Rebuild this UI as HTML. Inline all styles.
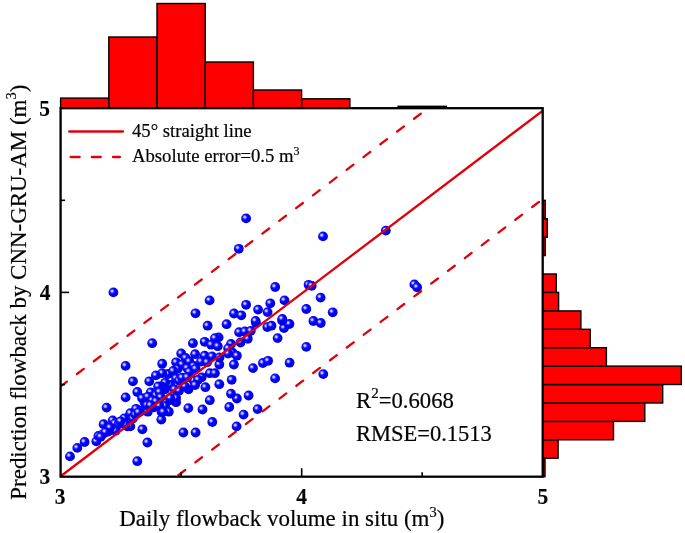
<!DOCTYPE html>
<html><head><meta charset="utf-8"><title>chart</title>
<style>
html,body{margin:0;padding:0;background:#fff;}
svg{display:block;}
text{font-family:"Liberation Serif",serif;fill:#000;}
.r{stroke:#000;stroke-width:0.2px;}
.b{font-weight:bold;font-size:23.8px;stroke:#000;stroke-width:0.15px;}
</style></head><body>
<svg width="685" height="533" viewBox="0 0 685 533">
<defs>
<radialGradient id="g" cx="0.365" cy="0.37" r="0.70" fx="0.365" fy="0.37">
<stop offset="0" stop-color="#e2e2ff"/>
<stop offset="0.11" stop-color="#c4c4ff"/>
<stop offset="0.24" stop-color="#5858ff"/>
<stop offset="0.34" stop-color="#1414fa"/>
<stop offset="0.5" stop-color="#0202f4"/>
<stop offset="0.85" stop-color="#0000ec"/>
<stop offset="1" stop-color="#0000cc"/>
</radialGradient>
<clipPath id="cp"><rect x="60.6" y="108.2" width="482.1" height="368.5"/></clipPath>
</defs>
<rect width="685" height="533" fill="#fff"/>

<rect x="60.6" y="98.1" width="48.2" height="10.1" fill="#ff0000" stroke="#000" stroke-width="1.4"/>
<rect x="108.8" y="37.0" width="48.2" height="71.2" fill="#ff0000" stroke="#000" stroke-width="1.4"/>
<rect x="157.0" y="3.5" width="48.2" height="104.7" fill="#ff0000" stroke="#000" stroke-width="1.4"/>
<rect x="205.2" y="62.0" width="48.2" height="46.2" fill="#ff0000" stroke="#000" stroke-width="1.4"/>
<rect x="253.4" y="90.0" width="48.2" height="18.2" fill="#ff0000" stroke="#000" stroke-width="1.4"/>
<rect x="301.7" y="98.8" width="48.2" height="9.4" fill="#ff0000" stroke="#000" stroke-width="1.4"/>
<rect x="398.1" y="106.3" width="48.2" height="1.9" fill="#ff0000" stroke="#000" stroke-width="1.4"/>
<rect x="542.7" y="458.3" width="2.3" height="18.4" fill="#ff0000" stroke="#000" stroke-width="1.4"/>
<rect x="542.7" y="439.8" width="15.4" height="18.4" fill="#ff0000" stroke="#000" stroke-width="1.4"/>
<rect x="542.7" y="421.4" width="70.8" height="18.4" fill="#ff0000" stroke="#000" stroke-width="1.4"/>
<rect x="542.7" y="403.0" width="102.1" height="18.4" fill="#ff0000" stroke="#000" stroke-width="1.4"/>
<rect x="542.7" y="384.6" width="120.0" height="18.4" fill="#ff0000" stroke="#000" stroke-width="1.4"/>
<rect x="542.7" y="366.1" width="138.6" height="18.4" fill="#ff0000" stroke="#000" stroke-width="1.4"/>
<rect x="542.7" y="347.7" width="63.7" height="18.4" fill="#ff0000" stroke="#000" stroke-width="1.4"/>
<rect x="542.7" y="329.3" width="47.5" height="18.4" fill="#ff0000" stroke="#000" stroke-width="1.4"/>
<rect x="542.7" y="310.9" width="38.2" height="18.4" fill="#ff0000" stroke="#000" stroke-width="1.4"/>
<rect x="542.7" y="292.4" width="15.9" height="18.4" fill="#ff0000" stroke="#000" stroke-width="1.4"/>
<rect x="542.7" y="274.0" width="13.6" height="18.4" fill="#ff0000" stroke="#000" stroke-width="1.4"/>
<rect x="542.7" y="237.2" width="2.5" height="18.4" fill="#ff0000" stroke="#000" stroke-width="1.4"/>
<rect x="542.7" y="218.8" width="4.6" height="18.4" fill="#ff0000" stroke="#000" stroke-width="1.4"/>
<rect x="542.7" y="200.3" width="2.5" height="18.4" fill="#ff0000" stroke="#000" stroke-width="1.4"/>
<g fill="url(#g)">
<circle cx="70.0" cy="456.4" r="4.9"/>
<circle cx="77.3" cy="447.9" r="4.9"/>
<circle cx="84.6" cy="442.0" r="4.9"/>
<circle cx="96.3" cy="441.4" r="4.9"/>
<circle cx="98.4" cy="435.9" r="4.9"/>
<circle cx="102.5" cy="434.4" r="4.9"/>
<circle cx="106.6" cy="407.6" r="4.9"/>
<circle cx="103.6" cy="424.2" r="4.9"/>
<circle cx="112.7" cy="420.5" r="4.9"/>
<circle cx="114.9" cy="423.4" r="4.9"/>
<circle cx="118.6" cy="424.2" r="4.9"/>
<circle cx="108.3" cy="431.5" r="4.9"/>
<circle cx="115.6" cy="430.7" r="4.9"/>
<circle cx="124.4" cy="418.3" r="4.9"/>
<circle cx="130.3" cy="413.2" r="4.9"/>
<circle cx="127.3" cy="426.4" r="4.9"/>
<circle cx="130.3" cy="426.4" r="4.9"/>
<circle cx="136.1" cy="408.8" r="4.9"/>
<circle cx="141.3" cy="411.0" r="4.9"/>
<circle cx="144.4" cy="402.1" r="4.9"/>
<circle cx="147.8" cy="411.7" r="4.9"/>
<circle cx="153.7" cy="407.3" r="4.9"/>
<circle cx="142.4" cy="429.3" r="4.9"/>
<circle cx="147.4" cy="442.5" r="4.9"/>
<circle cx="137.3" cy="461.2" r="4.9"/>
<circle cx="161.3" cy="419.6" r="4.9"/>
<circle cx="165.1" cy="405.9" r="4.9"/>
<circle cx="161.5" cy="411.7" r="4.9"/>
<circle cx="168.8" cy="411.7" r="4.9"/>
<circle cx="176.1" cy="402.2" r="4.9"/>
<circle cx="170.2" cy="400.0" r="4.9"/>
<circle cx="188.3" cy="408.1" r="4.9"/>
<circle cx="202.5" cy="409.5" r="4.9"/>
<circle cx="209.8" cy="400.2" r="4.9"/>
<circle cx="212.3" cy="422.0" r="4.9"/>
<circle cx="183.4" cy="432.5" r="4.9"/>
<circle cx="195.6" cy="432.5" r="4.9"/>
<circle cx="229.3" cy="407.0" r="4.9"/>
<circle cx="236.9" cy="398.5" r="4.9"/>
<circle cx="243.6" cy="414.6" r="4.9"/>
<circle cx="236.6" cy="426.4" r="4.9"/>
<circle cx="257.6" cy="409.1" r="4.9"/>
<circle cx="248.6" cy="395.5" r="4.9"/>
<circle cx="267.3" cy="327.1" r="4.9"/>
<circle cx="271.5" cy="325.7" r="4.9"/>
<circle cx="284.0" cy="328.0" r="4.9"/>
<circle cx="289.4" cy="324.0" r="4.9"/>
<circle cx="282.1" cy="320.5" r="4.9"/>
<circle cx="277.6" cy="338.1" r="4.9"/>
<circle cx="313.4" cy="321.0" r="4.9"/>
<circle cx="320.8" cy="323.0" r="4.9"/>
<circle cx="306.3" cy="346.9" r="4.9"/>
<circle cx="262.9" cy="363.0" r="4.9"/>
<circle cx="268.1" cy="360.8" r="4.9"/>
<circle cx="289.6" cy="362.7" r="4.9"/>
<circle cx="275.1" cy="378.4" r="4.9"/>
<circle cx="323.3" cy="374.1" r="4.9"/>
<circle cx="207.6" cy="325.7" r="4.9"/>
<circle cx="226.6" cy="324.2" r="4.9"/>
<circle cx="255.9" cy="322.7" r="4.9"/>
<circle cx="239.1" cy="332.2" r="4.9"/>
<circle cx="244.9" cy="331.5" r="4.9"/>
<circle cx="250.8" cy="330.8" r="4.9"/>
<circle cx="247.8" cy="338.8" r="4.9"/>
<circle cx="240.5" cy="342.5" r="4.9"/>
<circle cx="218.6" cy="337.4" r="4.9"/>
<circle cx="214.9" cy="338.1" r="4.9"/>
<circle cx="204.7" cy="341.8" r="4.9"/>
<circle cx="211.2" cy="344.7" r="4.9"/>
<circle cx="217.8" cy="346.2" r="4.9"/>
<circle cx="192.9" cy="343.2" r="4.9"/>
<circle cx="231.0" cy="344.0" r="4.9"/>
<circle cx="228.1" cy="348.4" r="4.9"/>
<circle cx="232.5" cy="352.7" r="4.9"/>
<circle cx="236.9" cy="355.7" r="4.9"/>
<circle cx="228.1" cy="353.5" r="4.9"/>
<circle cx="181.2" cy="353.5" r="4.9"/>
<circle cx="185.6" cy="357.9" r="4.9"/>
<circle cx="195.1" cy="354.2" r="4.9"/>
<circle cx="204.7" cy="355.7" r="4.9"/>
<circle cx="212.0" cy="356.4" r="4.9"/>
<circle cx="201.0" cy="361.5" r="4.9"/>
<circle cx="189.3" cy="361.5" r="4.9"/>
<circle cx="176.1" cy="362.3" r="4.9"/>
<circle cx="162.2" cy="363.7" r="4.9"/>
<circle cx="182.0" cy="364.5" r="4.9"/>
<circle cx="177.6" cy="368.9" r="4.9"/>
<circle cx="187.1" cy="368.1" r="4.9"/>
<circle cx="193.7" cy="365.9" r="4.9"/>
<circle cx="189.3" cy="371.8" r="4.9"/>
<circle cx="219.3" cy="364.5" r="4.9"/>
<circle cx="233.9" cy="364.5" r="4.9"/>
<circle cx="209.8" cy="373.2" r="4.9"/>
<circle cx="214.9" cy="373.2" r="4.9"/>
<circle cx="201.7" cy="377.3" r="4.9"/>
<circle cx="253.0" cy="368.1" r="4.9"/>
<circle cx="231.7" cy="379.8" r="4.9"/>
<circle cx="219.3" cy="384.2" r="4.9"/>
<circle cx="205.4" cy="387.2" r="4.9"/>
<circle cx="231.0" cy="393.7" r="4.9"/>
<circle cx="168.1" cy="374.0" r="4.9"/>
<circle cx="162.2" cy="373.2" r="4.9"/>
<circle cx="173.2" cy="371.0" r="4.9"/>
<circle cx="176.1" cy="378.4" r="4.9"/>
<circle cx="179.0" cy="380.6" r="4.9"/>
<circle cx="170.2" cy="385.0" r="4.9"/>
<circle cx="165.1" cy="382.8" r="4.9"/>
<circle cx="165.1" cy="389.3" r="4.9"/>
<circle cx="182.0" cy="377.6" r="4.9"/>
<circle cx="193.7" cy="380.6" r="4.9"/>
<circle cx="198.1" cy="379.8" r="4.9"/>
<circle cx="188.5" cy="389.3" r="4.9"/>
<circle cx="195.1" cy="385.0" r="4.9"/>
<circle cx="184.9" cy="386.4" r="4.9"/>
<circle cx="176.1" cy="398.1" r="4.9"/>
<circle cx="170.2" cy="398.1" r="4.9"/>
<circle cx="161.5" cy="386.4" r="4.9"/>
<circle cx="174.6" cy="389.3" r="4.9"/>
<circle cx="179.0" cy="390.8" r="4.9"/>
<circle cx="152.2" cy="343.2" r="4.9"/>
<circle cx="125.6" cy="365.9" r="4.9"/>
<circle cx="155.9" cy="375.4" r="4.9"/>
<circle cx="132.9" cy="381.3" r="4.9"/>
<circle cx="149.3" cy="381.3" r="4.9"/>
<circle cx="158.1" cy="386.4" r="4.9"/>
<circle cx="137.3" cy="392.0" r="4.9"/>
<circle cx="150.8" cy="392.3" r="4.9"/>
<circle cx="125.6" cy="397.4" r="4.9"/>
<circle cx="155.9" cy="395.2" r="4.9"/>
<circle cx="142.0" cy="398.1" r="4.9"/>
<circle cx="147.8" cy="396.7" r="4.9"/>
<circle cx="113.4" cy="292.4" r="4.9"/>
<circle cx="195.5" cy="313.3" r="4.9"/>
<circle cx="209.6" cy="300.4" r="4.9"/>
<circle cx="238.8" cy="248.8" r="4.9"/>
<circle cx="275.2" cy="287.0" r="4.9"/>
<circle cx="284.5" cy="300.4" r="4.9"/>
<circle cx="270.3" cy="303.3" r="4.9"/>
<circle cx="246.1" cy="304.8" r="4.9"/>
<circle cx="258.1" cy="309.6" r="4.9"/>
<circle cx="267.6" cy="312.1" r="4.9"/>
<circle cx="234.0" cy="313.5" r="4.9"/>
<circle cx="241.3" cy="315.3" r="4.9"/>
<circle cx="282.3" cy="319.0" r="4.9"/>
<circle cx="255.6" cy="320.9" r="4.9"/>
<circle cx="246.1" cy="218.4" r="4.9"/>
<circle cx="323.0" cy="236.4" r="4.9"/>
<circle cx="308.6" cy="284.8" r="4.9"/>
<circle cx="311.7" cy="285.8" r="4.9"/>
<circle cx="320.6" cy="297.6" r="4.9"/>
<circle cx="306.3" cy="309.0" r="4.9"/>
<circle cx="332.7" cy="312.3" r="4.9"/>
<circle cx="219.5" cy="357.5" r="4.9"/>
<circle cx="159.5" cy="392.0" r="4.9"/>
<circle cx="152.3" cy="400.5" r="4.9"/>
<circle cx="125.4" cy="424.6" r="4.9"/>
<circle cx="132.9" cy="418.5" r="4.9"/>
<circle cx="147.0" cy="405.2" r="4.9"/>
<circle cx="110.0" cy="427.7" r="4.9"/>
<circle cx="105.5" cy="432.2" r="4.9"/>
<circle cx="120.5" cy="421.3" r="4.9"/>
<circle cx="135.3" cy="414.6" r="4.9"/>
<circle cx="138.5" cy="412.3" r="4.9"/>
<circle cx="100.7" cy="436.8" r="4.9"/>
<circle cx="160.8" cy="397.3" r="4.9"/>
<circle cx="156.0" cy="401.3" r="4.9"/>
<circle cx="150.5" cy="405.3" r="4.9"/>
<circle cx="159.3" cy="405.7" r="4.9"/>
<circle cx="163.2" cy="411.9" r="4.9"/>
<circle cx="207.1" cy="362.2" r="4.9"/>
<circle cx="195.6" cy="368.8" r="4.9"/>
<circle cx="187.2" cy="377.2" r="4.9"/>
<circle cx="385.8" cy="230.6" r="4.9"/>
<circle cx="414.4" cy="284.4" r="4.9"/>
<circle cx="417.1" cy="287.3" r="4.9"/>
</g>
<g clip-path="url(#cp)" stroke="#e20008" stroke-width="2.3" fill="none" stroke-linecap="round">
<line x1="61.0" y1="476.0" x2="542.8" y2="110.6"/>
<line x1="60.6" y1="386.4" x2="428.0" y2="108.2" stroke-dasharray="8.5 12.64" stroke-dashoffset="0.6"/>
<line x1="176.4" y1="476.7" x2="542.8" y2="199.0" stroke-dasharray="8.5 12.64" stroke-dashoffset="18.6"/>
</g>
<rect x="60.6" y="108.2" width="482.1" height="368.5" fill="none" stroke="#000" stroke-width="2.3"/>
<g stroke="#000" stroke-width="1.6">
<line x1="301.7" y1="476.7" x2="301.7" y2="468.2"/>
<line x1="181.1" y1="476.7" x2="181.1" y2="472.2"/>
<line x1="422.2" y1="476.7" x2="422.2" y2="472.2"/>
<line x1="60.6" y1="292.4" x2="69.1" y2="292.4"/>
<line x1="60.6" y1="384.6" x2="65.1" y2="384.6"/>
<line x1="60.6" y1="200.3" x2="65.1" y2="200.3"/>
</g>
<g id="txt" style="will-change:opacity;opacity:0.999">
<line x1="69.2" y1="131.5" x2="123.0" y2="131.5" stroke="#e20008" stroke-width="2.3" stroke-linecap="round"/>
<line x1="70.65" y1="157" x2="119.95" y2="157" stroke="#e20008" stroke-width="2.3" stroke-linecap="round" stroke-dasharray="9 12.15"/>
<text id="lg1" class="r" x="132" y="136.8" font-size="18.7">45° straight line</text>
<text id="lg2" class="r" x="132" y="162.2" font-size="18.7">Absolute error=0.5 m<tspan font-size="12" dy="-7.5">3</tspan></text>
<text id="an1" class="r" x="356.0" y="407.6" font-size="22.7">R<tspan font-size="15" dy="-9.3">2</tspan><tspan dy="9.3">=0.6068</tspan></text>
<text id="an2" class="r" x="356.0" y="441" font-size="22.5">RMSE=0.1513</text>
<text id="ty5" class="b" transform="translate(50.0,115.5) scale(0.9,1)" text-anchor="end">5</text>
<text id="ty4" class="b" transform="translate(50.4,300.1) scale(0.9,1)" text-anchor="end">4</text>
<text id="ty3" class="b" transform="translate(50.2,484.0) scale(0.9,1)" text-anchor="end">3</text>
<text id="tx3" class="b" transform="translate(60.2,504.1) scale(0.9,1)" text-anchor="middle">3</text>
<text id="tx4" class="b" transform="translate(301.7,504.1) scale(0.9,1)" text-anchor="middle">4</text>
<text id="tx5" class="b" transform="translate(542.8,504.1) scale(0.9,1)" text-anchor="middle">5</text>
<text id="xl" class="r" x="281.8" y="526.0" font-size="22.95" text-anchor="middle">Daily flowback volume in situ (m<tspan font-size="14.5" dy="-9.4">3</tspan><tspan dy="9.4">)</tspan></text>
<text id="yl" class="r" transform="translate(25.9,292.2) rotate(-90)" font-size="22.95" text-anchor="middle">Prediction flowback by CNN-GRU-AM (m<tspan font-size="14.5" dy="-10.2">3</tspan><tspan dy="10.2">)</tspan></text>
</g>
</svg></body></html>
